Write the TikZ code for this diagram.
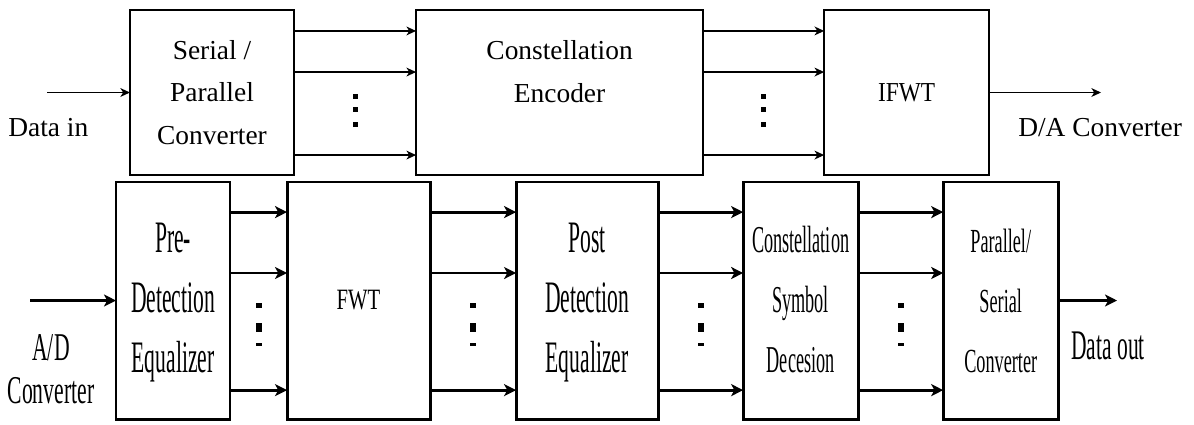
\documentclass[tikz,border=0pt]{standalone}
\usepackage{fontspec}
\setmainfont{Liberation Serif}
\usepackage{graphicx}
\usetikzlibrary{arrows.meta, positioning, calc}

\newcommand{\narrowtext}[2]{\scalebox{#1}[1]{\begin{tabular}{@{}c@{}}#2\end{tabular}}}

\begin{document}
\begin{tikzpicture}[
	x=0.025cm, y=-0.025cm,
	topbox/.style={rectangle, draw, line width=1.2pt, minimum height=4.125cm, inner sep=0pt, outer sep=0pt, align=center, font=\fontsize{19.5}{30}\selectfont},
	botbox/.style={rectangle, draw, line width=2.1pt, minimum height=5.925cm, inner sep=0pt, outer sep=0pt, align=center},
	toparrow/.style={-{Stealth[length=2.4mm, width=2.2mm, inset=0.7mm]}, line width=0.95pt},
	botarrow/.style={-{Stealth[length=3mm, width=3mm, inset=0.8mm]}, line width=2.1pt},
	toplabel/.style={inner sep=0pt, font=\fontsize{19.5}{30}\selectfont},
	every node/.style={align=center}
	]
	\useasboundingbox (0,0) rectangle (1194,424);

	\node[topbox, minimum width=4.1cm] (sp) at (212,92.5) {Serial /\\Parallel\\Converter};
	\node[topbox, minimum width=7.175cm, right=3.05cm of sp] (enc) {Constellation\\Encoder\\\mbox{}};
	\node[topbox, minimum width=4.125cm, right=3.025cm of enc] (ifwt) {\scalebox{0.85}[1]{IFWT}};

	\node[botbox, minimum width=2.85cm, font=\fontsize{32}{42.7}\selectfont] (pre) at (173,300.5) {\narrowtext{0.48}{Pre-\\Detection\\Equalizer}};
	\node[botbox, minimum width=3.575cm, right=1.425cm of pre, font=\fontsize{21}{24}\selectfont] (fwt) {\scalebox{0.7}[1]{FWT}};
	\node[botbox, minimum width=3.55cm, right=2.15cm of fwt, font=\fontsize{32}{42.7}\selectfont] (post) {\narrowtext{0.48}{Post\\Detection\\Equalizer}};
	\node[botbox, minimum width=2.875cm, right=2.125cm of post, font=\fontsize{27}{42.7}\selectfont] (csd) {\narrowtext{0.48}{Constellation\\Symbol\\Decesion}};
	\node[botbox, minimum width=2.875cm, right=2.125cm of csd, font=\fontsize{24}{42.7}\selectfont] (ps) {\narrowtext{0.54}{Parallel/\\Serial\\Converter}};

	\coordinate (din) at (47,92.5);
	\draw[toparrow] (din) -- (sp.west);
	\node[toplabel, anchor=west] (datain) at (8,128) {Data in};

	\coordinate (dac) at (1101,92.5);
	\draw[toparrow] (ifwt.east) -- (dac);
	\node[toplabel, anchor=west] (daconv) at (1018,128) {D/A Converter};

	\coordinate (adc) at (30,300.5);
	\draw[botarrow] (adc) -- (pre.west);
	\node[font=\fontsize{28}{30.6}\selectfont] (adconv) at (51,373) {\narrowtext{0.55}{A/D\\Converter}};

	\coordinate (dout) at (1117,300.5);
	\draw[botarrow] (ps.east) -- (dout);
	\node[font=\fontsize{30}{36}\selectfont] (dataout) at (1108,346) {\scalebox{0.51}[1]{Data out}};

	\foreach \a/\b in {sp/enc, enc/ifwt}
	{
		\foreach \f in {0.127, 0.376, 0.879}
			\draw[toparrow] ($(\a.north east)!\f!(\a.south east)$) -- ($(\b.north west)!\f!(\b.south west)$);
		\path (\a.east) -- (\b.west) coordinate[midway] (gap);
		\foreach \dy in {1.5, 14.5, 29.5}
			\fill ($(gap)+(-2.5,\dy)$) rectangle ++(5,5);
	}

	\foreach \a/\b in {pre/fwt, fwt/post, post/csd, csd/ps}
	{
		\foreach \f in {0.127, 0.384, 0.878}
			\draw[botarrow] ($(\a.north east)!\f!(\a.south east)$) -- ($(\b.north west)!\f!(\b.south west)$);
		\path (\a.east) -- (\b.west) coordinate[midway] (gap);
		\foreach \dy/\h in {2.5/5, 22.5/9, 42.5/3}
			\fill ($(gap)+(-3,\dy)$) rectangle ++(6,\h);
	}
\end{tikzpicture}
\end{document}
